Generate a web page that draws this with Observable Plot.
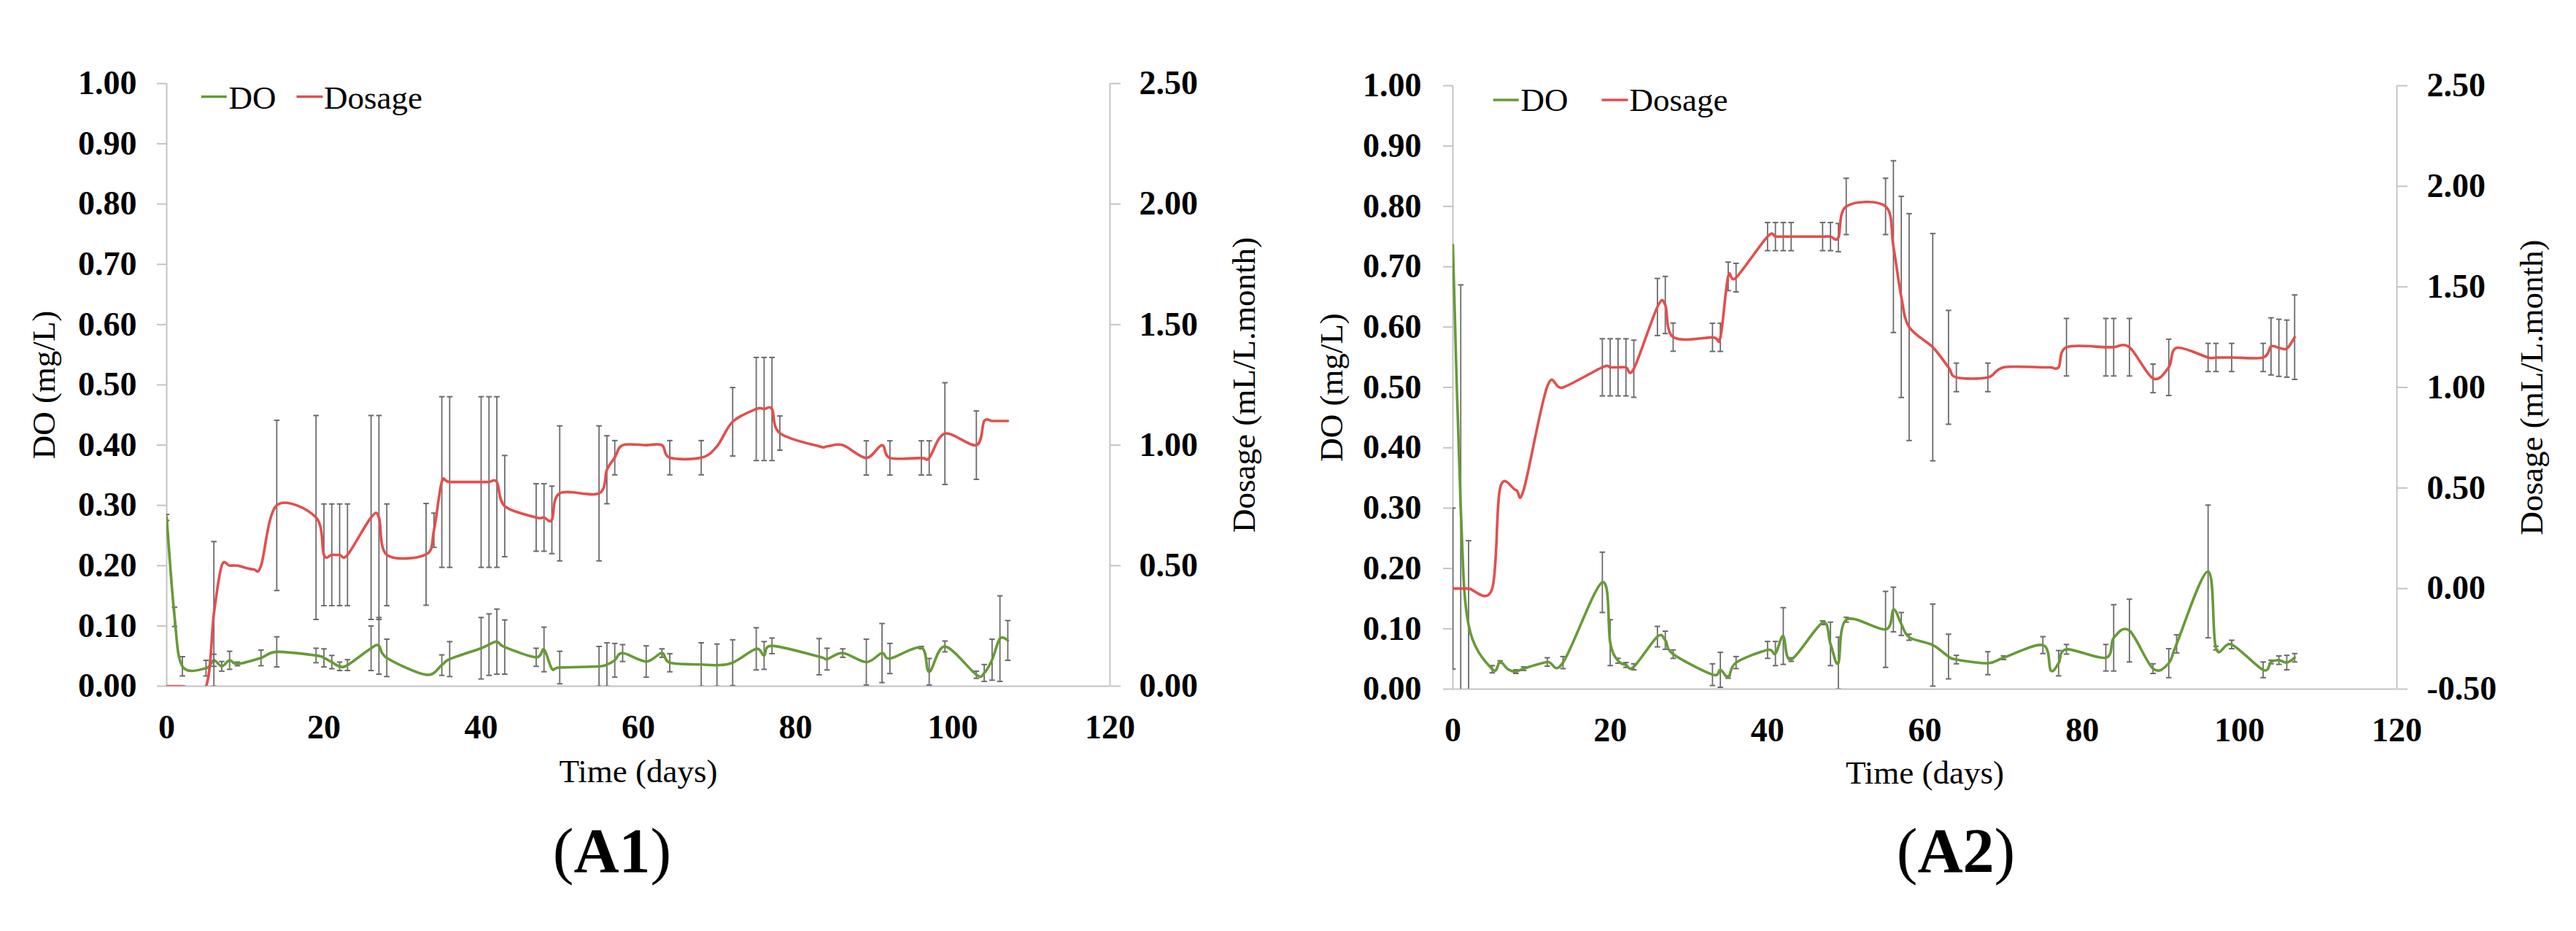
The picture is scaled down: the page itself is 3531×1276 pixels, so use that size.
<!DOCTYPE html>
<html>
<head>
<meta charset="utf-8">
<script src="https://cdn.jsdelivr.net/npm/d3@7"></script>
<script src="https://cdn.jsdelivr.net/npm/@observablehq/plot@0.6"></script>
<style>
html, body { margin: 0; padding: 0; background: #fff; }
#page { position: relative; width: 3531px; height: 1276px; background: #fff; overflow: hidden; }
.panel { position: absolute; top: 0; }
.cap { position: absolute; top: 1123px; font-family: "Liberation Serif", "Times New Roman", serif; font-size: 86px; line-height: 86px; transform: translateX(-50%); white-space: nowrap; color: #000; }
.cap b { font-weight: bold; }
</style>
</head>
<body>
<div id="page"></div>
<script>
// ---------- shared axis ticks ----------
const xTicks = [0, 20, 40, 60, 80, 100, 120];
const leftTicks = [0, 0.1, 0.2, 0.3, 0.4, 0.5, 0.6, 0.7, 0.8, 0.9, 1.0];
const rightTicksA1 = [0, 0.5, 1.0, 1.5, 2.0, 2.5];
const rightTicksA2 = [-0.5, 0, 0.5, 1.0, 1.5, 2.0, 2.5];

// ---------- A1 : DO (mg/L) ----------
const a1DoDays = [0,1,2,5,6,7,8,9,12,14,19,20,21,22,23,26,27,28,33,35,36,40,41,42,43,47,48,49,50,55,56,57,58,61,63,64,68,70,72,75,76,77,83,84,86,89,91,92,96,97,99,103,104,105,106,107];
const a1DoVals = [0.28,0.115,0.033,0.030,0.043,0.033,0.043,0.037,0.047,0.057,0.051,0.047,0.040,0.033,0.035,0.063,0.067,0.047,0.019,0.035,0.045,0.063,0.069,0.074,0.065,0.048,0.061,0.029,0.031,0.033,0.036,0.043,0.055,0.041,0.055,0.039,0.036,0.035,0.039,0.062,0.051,0.067,0.049,0.045,0.055,0.040,0.055,0.046,0.064,0.024,0.066,0.019,0.022,0.044,0.079,0.076];
const a1DoErr = [0.005,0.016,0.016,0.013,0.01,0.008,0.015,0.003,0.013,0.025,0.012,0.015,0.011,0.007,0.009,0.037,0.047,0.031,0,0.017,0.029,0.051,0.051,0.054,0.045,0.015,0.037,0,0.027,0.033,0.036,0.028,0.014,0.026,0.007,0.015,0.036,0.035,0.038,0.035,0.023,0.013,0.030,0.018,0.007,0.038,0.049,0.025,0.002,0.022,0.009,0.006,0.014,0.034,0.071,0.033];

// ---------- A1 : Dosage (mL/L.month) ----------
const a1DsDays = [0,2,5,6,7,8,9,11,12,14,19,20,21,22,23,26,27,28,33,34,35,36,40,41,42,43,47,48,49,50,55,56,57,58,61,63,64,68,70,72,75,76,77,78,83,84,86,89,91,92,96,97,99,103,104,105,106,107];
const a1DsVals = [0,0,0,0.30,0.50,0.50,0.50,0.485,0.50,0.75,0.70,0.545,0.545,0.545,0.545,0.70,0.70,0.545,0.547,0.647,0.847,0.847,0.847,0.847,0.847,0.747,0.70,0.70,0.69,0.80,0.80,0.898,0.948,1.0,1.0,1.0,0.948,0.948,0.995,1.097,1.15,1.15,1.15,1.05,0.995,0.995,1.0,0.947,1.0,0.947,0.947,0.947,1.048,1.0,1.10,1.10,1.10,1.10];
const a1DsErr = [0,0,0,0.30,0,0,0,0,0,0.353,0.423,0.211,0.211,0.211,0.211,0.423,0.423,0.211,0.211,0.071,0.354,0.354,0.354,0.354,0.354,0.21,0.14,0.14,0.14,0.28,0.28,0.141,0.071,0,0,0,0.071,0.071,0,0.142,0.214,0.214,0.214,0.071,0,0,0,0.071,0,0.071,0.071,0.071,0.211,0.142,0,0,0,0];

// ---------- A2 : DO (mg/L) ----------
const a2DoDays = [0,1,2,5,6,7,8,9,12,14,19,20,21,22,23,26,27,28,33,34,35,36,40,41,42,43,47,48,49,50,55,56,57,58,61,63,64,68,70,75,76,77,78,83,84,86,89,91,92,96,97,99,103,104,105,106,107];
const a2DoVals = [0.736,0.30,0.106,0.033,0.045,0.033,0.029,0.034,0.045,0.044,0.177,0.077,0.047,0.040,0.037,0.087,0.081,0.058,0.024,0.032,0.020,0.044,0.065,0.059,0.088,0.049,0.110,0.075,0.043,0.115,0.099,0.132,0.108,0.086,0.073,0.054,0.049,0.043,0.052,0.073,0.031,0.043,0.066,0.052,0.085,0.097,0.034,0.043,0.075,0.195,0.068,0.074,0.032,0.045,0.048,0.044,0.052];
const a2DoErr = [0,0.37,0.14,0.006,0.002,0,0.003,0.003,0.007,0.010,0.05,0.038,0.004,0.004,0.005,0.017,0.015,0.007,0.018,0.029,0.002,0.010,0.014,0.020,0.047,0.003,0.003,0.036,0.043,0.004,0.063,0.037,0.019,0.005,0.068,0.037,0.007,0.019,0.003,0.014,0,0.021,0.008,0.022,0.055,0.052,0.008,0.024,0.015,0.11,0.003,0.007,0.013,0.003,0.007,0.012,0.007];

// ---------- A2 : Dosage (mL/L.month) ----------
const a2DsDays = [0,1,2,5,6,8,9,12,14,19,20,21,22,23,26,27,28,33,34,35,36,40,41,42,43,47,48,49,50,55,56,57,58,61,63,64,68,70,75,76,77,78,83,84,86,89,91,92,96,97,99,103,104,105,106,107];
const a2DsVals = [0,0,0,0,0.50,0.49,0.49,1.005,1.0,1.10,1.10,1.10,1.10,1.093,1.40,1.41,1.25,1.249,1.249,1.552,1.546,1.75,1.75,1.75,1.75,1.75,1.75,1.745,1.90,1.90,1.70,1.45,1.30,1.20,1.10,1.05,1.05,1.10,1.10,1.10,1.10,1.20,1.20,1.20,1.20,1.045,1.10,1.197,1.149,1.149,1.149,1.149,1.204,1.197,1.193,1.25];
const a2DsErr = [0.40,0,0,0,0,0,0,0,0,0.142,0.142,0.142,0.142,0.142,0.142,0.142,0.07,0.07,0.07,0.071,0.071,0.07,0.07,0.07,0.07,0.07,0.07,0.07,0.14,0.14,0.427,0.50,0.564,0.565,0.283,0.071,0.071,0,0,0,0,0.143,0.143,0.143,0.143,0.071,0.14,0,0.07,0.07,0.07,0.07,0.142,0.142,0.142,0.21];

// ---------- styling ----------
const FONT = '"Liberation Serif", "Times New Roman", serif';
const GREEN = "#679a36";
const RED = "#e14f4f";
const BAR = "#6b6b6b";
const AXIS = "#c4c4c4";

const hline = (w) => ({ draw(ctx) { ctx.moveTo(-w, 0); ctx.lineTo(w, 0); } });

function rows(days, vals, errs, f = (v) => v, s = 1) {
  return days.map((d, i) => ({ day: d, v: f(vals[i]), e: errs[i] / s }));
}

function errorMarks(data) {
  const withErr = data.filter((d) => d.e > 0);
  return [
    Plot.ruleX(withErr, { x: "day", y1: (d) => d.v - d.e, y2: (d) => d.v + d.e, stroke: BAR, strokeWidth: 1.8, clip: true }),
    Plot.dot(withErr, { x: "day", y: (d) => d.v - d.e, symbol: hline(3.8), stroke: BAR, strokeWidth: 2, fill: "none", clip: true }),
    Plot.dot(withErr, { x: "day", y: (d) => d.v + d.e, symbol: hline(3.8), stroke: BAR, strokeWidth: 2, fill: "none", clip: true })
  ];
}

function panel(cfg) {
  const doRows = rows(cfg.doDays, cfg.doVals, cfg.doErr);
  const dsRows = rows(cfg.dsDays, cfg.dsVals, cfg.dsErr, cfg.toLeft, cfg.span);
  const L = cfg.legend;
  return Plot.plot({
    width: cfg.width,
    height: 1100,
    marginLeft: cfg.ml,
    marginRight: cfg.mr,
    marginTop: cfg.mt,
    marginBottom: cfg.mb,
    x: { domain: [0, 120] },
    y: { domain: [0, 1] },
    style: { fontFamily: FONT, background: "white", color: "black", overflow: "visible" },
    marks: [
      Plot.ruleX([0, 120], { stroke: AXIS, strokeWidth: 2 }),
      Plot.ruleY([0], { stroke: AXIS, strokeWidth: 2 }),
      Plot.axisY({ ticks: leftTicks, anchor: "left", tickFormat: (d) => d.toFixed(2), tickSize: 13, tickPadding: cfg.lpad, fontSize: 46, fontWeight: "bold", stroke: AXIS, strokeWidth: 2, fill: "black", label: null }),
      Plot.axisY({ ticks: cfg.rightTicks.map(cfg.toLeft), anchor: "right", tickFormat: cfg.rightFormat, tickSize: 14, tickPadding: cfg.rpad, fontSize: 46, fontWeight: "bold", stroke: AXIS, strokeWidth: 2, fill: "black", label: null }),
      Plot.axisX({ ticks: xTicks, anchor: "bottom", tickFormat: (d) => String(d), tickSize: 0, tickPadding: 39, fontSize: 46, fontWeight: "bold", fill: "black", label: null }),
      Plot.text(["DO (mg/L)"], { text: (d) => d, frameAnchor: "left", dx: cfg.ltdx, rotate: -90, textAnchor: "middle", lineAnchor: "middle", fontSize: 45, fill: "black" }),
      Plot.text(["Dosage (mL/L.month)"], { text: (d) => d, frameAnchor: "right", dx: cfg.rtdx, rotate: -90, textAnchor: "middle", lineAnchor: "middle", fontSize: 45, fill: "black" }),
      Plot.text(["Time (days)"], { text: (d) => d, frameAnchor: "bottom", dy: cfg.xtdy, textAnchor: "middle", lineAnchor: "bottom", fontSize: 45, fill: "black" }),
      ...errorMarks(doRows),
      Plot.line(doRows, { x: "day", y: "v", stroke: GREEN, strokeWidth: 3.6, curve: "cardinal", clip: true }),
      ...errorMarks(dsRows),
      Plot.line(dsRows, { x: "day", y: "v", stroke: RED, strokeWidth: 3.6, curve: "cardinal", clip: true }),
      // legend
      Plot.dot([0], { frameAnchor: "top-left", dx: L.g, dy: L.ly, symbol: hline(17.5), stroke: GREEN, strokeWidth: 3.6, fill: "none" }),
      Plot.text(["DO"], { text: (d) => d, frameAnchor: "top-left", dx: L.gt, dy: L.ty, textAnchor: "start", lineAnchor: "bottom", fontSize: 45, fill: "black" }),
      Plot.dot([0], { frameAnchor: "top-left", dx: L.r, dy: L.ly, symbol: hline(18), stroke: RED, strokeWidth: 3.6, fill: "none" }),
      Plot.text(["Dosage"], { text: (d) => d, frameAnchor: "top-left", dx: L.rt, dy: L.ty, textAnchor: "start", lineAnchor: "bottom", fontSize: 45, fill: "black" })
    ]
  });
}

const fmt = (v) => (Math.round(v * 100) / 100).toFixed(2);

const pA1 = panel({
  width: 1765, ml: 228, mr: 244, mt: 114, mb: 160,
  doDays: a1DoDays, doVals: a1DoVals, doErr: a1DoErr,
  dsDays: a1DsDays, dsVals: a1DsVals, dsErr: a1DsErr,
  toLeft: (v) => v / 2.5, span: 2.5,
  rightTicks: rightTicksA1, rightFormat: (d) => fmt(d * 2.5),
  lpad: 28, rpad: 26, ltdx: -168, rtdx: 184, xtdy: 131,
  legend: { g: 64.75, gt: 85, r: 196, rt: 215.5, ly: 18, ty: 34 }
});

const pA2 = panel({
  width: 1766, ml: 226, mr: 246, mt: 117, mb: 156,
  doDays: a2DoDays, doVals: a2DoVals, doErr: a2DoErr,
  dsDays: a2DsDays, dsVals: a2DsVals, dsErr: a2DsErr,
  toLeft: (v) => (v + 0.5) / 3, span: 3,
  rightTicks: rightTicksA2, rightFormat: (d) => fmt(d * 3 - 0.5),
  lpad: 30, rpad: 27, ltdx: -166, rtdx: 185, xtdy: 129,
  legend: { g: 72.7, gt: 93, r: 222, rt: 242, ly: 19.5, ty: 34.5 }
});

const page = document.getElementById("page");
function place(node, left) {
  const wrap = document.createElement("div");
  wrap.className = "panel";
  wrap.style.left = left + "px";
  wrap.appendChild(node);
  page.appendChild(wrap);
}
place(pA1, 0);
place(pA2, 1765);

function caption(label, centerX) {
  const c = document.createElement("div");
  c.className = "cap";
  c.style.left = centerX + "px";
  c.innerHTML = "(<b>" + label + "</b>)";
  page.appendChild(c);
}
caption("A1", 839);
caption("A2", 2681);
</script>
</body>
</html>
